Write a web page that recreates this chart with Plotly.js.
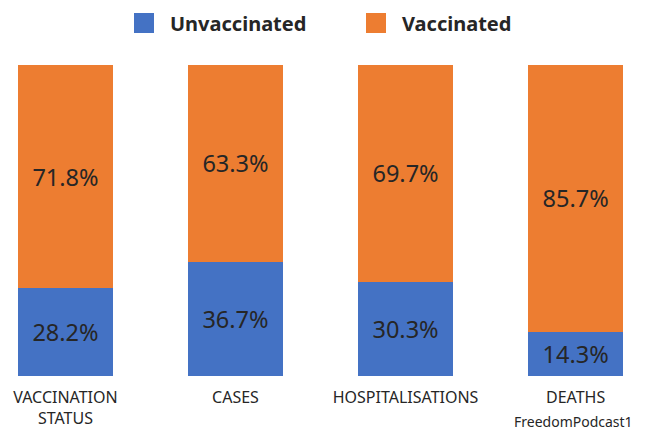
<!DOCTYPE html>
<html><head><meta charset="utf-8">
<script src="https://cdn.plot.ly/plotly-3.0.1.min.js"></script>
<style>html,body{margin:0;padding:0;background:#fff}#chart{width:647px;height:430px}</style>
</head><body><div id="chart"></div>
<script>
const categories = ["VACCINATION<br>STATUS", "CASES", "HOSPITALISATIONS", "DEATHS"];
const unvaccinated = [28.2, 36.7, 30.3, 14.3];
const vaccinated = [71.8, 63.3, 69.7, 85.7];
const seriesNames = ["Unvaccinated", "Vaccinated"];
const colors = ["#4472C4", "#ED7D31"];
const watermark = "FreedomPodcast1";

const FONT = "Noto Sans, Open Sans, sans-serif";
const TXT = "#262626";

const mk = (name, vals, color) => ({
  type: "bar", name: name, x: categories, y: vals,
  marker: {color: color},
  text: vals.map(v => v.toFixed(1) + "%"),
  textposition: "inside", insidetextanchor: "middle",
  textfont: {family: FONT, size: 23.5, color: TXT},
  hoverinfo: "skip", showlegend: false
});

const data = [mk(seriesNames[0], unvaccinated, colors[0]), mk(seriesNames[1], vaccinated, colors[1])];

const layout = {
  width: 647, height: 430,
  margin: {l: 0, r: 0, t: 65, b: 54},
  barmode: "stack", bargap: 0.44,
  paper_bgcolor: "#fff", plot_bgcolor: "#fff",
  font: {family: FONT, color: TXT},
  xaxis: {range: [-0.385, 3.42], showgrid: false, showline: false, zeroline: false,
          ticks: "", ticklabelstandoff: 10, tickfont: {family: FONT, size: 16, color: TXT}},
  yaxis: {range: [0, 100], visible: false},
  shapes: [
    {type: "rect", xref: "paper", yref: "paper", x0: 134/647, x1: 154/647, y0: 1 + (65-33)/311, y1: 1 + (65-13)/311, fillcolor: colors[0], line: {width: 0}},
    {type: "rect", xref: "paper", yref: "paper", x0: 366/647, x1: 386/647, y0: 1 + (65-33)/311, y1: 1 + (65-13)/311, fillcolor: colors[1], line: {width: 0}}
  ],
  annotations: [
    {xref: "paper", yref: "paper", x: 168/647, y: 1 + (65-23)/311, xanchor: "left", yanchor: "middle", showarrow: false,
     text: "<b>" + seriesNames[0] + "</b>", font: {family: FONT, size: 20, color: TXT}},
    {xref: "paper", yref: "paper", x: 400/647, y: 1 + (65-23)/311, xanchor: "left", yanchor: "middle", showarrow: false,
     text: "<b>" + seriesNames[1] + "</b>", font: {family: FONT, size: 20, color: TXT}},
    {xref: "paper", yref: "paper", x: 634/647, y: -(421-376)/311, xanchor: "right", yanchor: "middle", showarrow: false,
     borderpad: 0, text: watermark, font: {family: FONT, size: 14, color: TXT}}
  ]
};

Plotly.newPlot("chart", data, layout, {displayModeBar: false, staticPlot: true});
</script></body></html>
